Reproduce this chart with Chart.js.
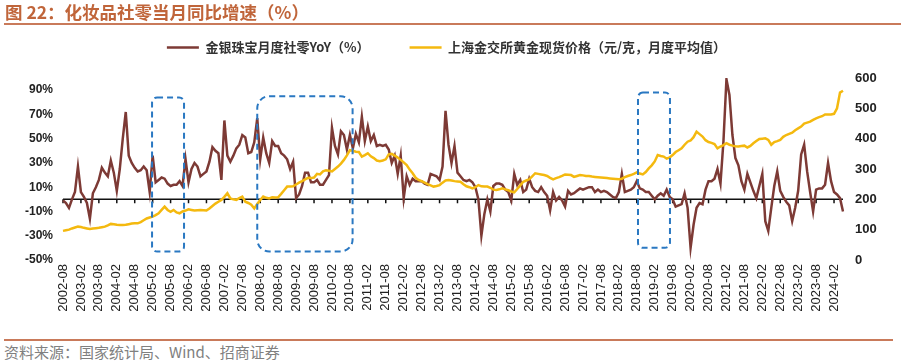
<!DOCTYPE html>
<html>
<head>
<meta charset="utf-8">
<script src="https://cdn.jsdelivr.net/npm/chart.js@4.4.1/dist/chart.umd.min.js"></script>
<style>
  html,body{margin:0;padding:0;background:#fff;}
  body{width:915px;height:361px;position:relative;overflow:hidden;}
  #title{position:absolute;left:5px;top:2px;line-height:20px;font-family:"Noto Sans CJK SC";font-weight:bold;font-size:17.5px;color:#c0653a;white-space:nowrap;}
  .rule{position:absolute;height:2px;background:#c97a5a;}
  #wrap{position:absolute;left:0;top:1px;width:893px;height:333px;}
  #src{position:absolute;left:4px;top:343px;line-height:18px;font-family:"Noto Sans CJK SC";font-size:15px;color:#808080;white-space:nowrap;}
</style>
</head>
<body>
<div id="wrap"><canvas id="c" width="893" height="333"></canvas></div>
<div id="title">图 22：化妆品社零当月同比增速（%）</div>
<div class="rule" style="left:4px;top:23px;width:897px;"></div>
<div class="rule" style="left:4px;top:339px;width:889px;"></div>
<div id="src">资料来源：国家统计局、Wind、招商证券</div>
<script>
// ---- data ----
const startYear = 2002, startMonth = 8, monthCount = 262;
const months = [];
for (let k = 0; k < monthCount; k++) {
  const t = startMonth - 1 + k;
  const y = startYear + Math.floor(t / 12), m = t % 12 + 1;
  months.push(y + '-' + String(m).padStart(2, '0'));
}

const jewelryYoY = [
  -1, -3, -7, 0, 6, 27, 6, 2, -3, -16,
  5, 10, 16, 26, 22, 19, 32, 22, 7, 25,
  50, 72, 36, 30, 26, 23, 24, 27, 24, 6,
  36, 14, 16, 18, 17, 13, 11, 12, 12, 15,
  11, 33, 14, 25, 30, 27, 19, 21, 23, 31,
  43, 40, 38, 16, 65, 36, 31, 36, 42, 45,
  53, 51, 38, 39, 47, 67, 33, 51, 38, 30,
  48, 44, 44, 38, 36, 33, 25, 31, 1, 4,
  11, 22, 22, 14, 14, 16, 12, 12, 16, 20,
  59, 44, 37, 56, 53, 41, 53, 42, 54, 47,
  68, 48, 60, 48, 53, 44, 45, 44, 45, 41,
  30, 36, 21, 36, 1, 19, 12, 17, 15, 15,
  15, 13, 12, 21, 20, 19, 16, 27, 73, 45,
  30, 44, 22, 19, 16, 15, 16, 14, 10, 0,
  -30, -12, 0, -10, 11, 13, 13, 12, 8, 6,
  -1, 21, 12, 16, 6, 8, 17, 10, 7, 6,
  10, 6, 3, -9, 6, -1, 2, -1, -6, 7,
  4, 5, 7, 9, 8, 9, 10, 10, 6, 8,
  6, 7, 6, 4, 2, 1, 6, 21, 6, 7,
  8, 10, 15, 9, 8, 6, 6, 3, 0, 3,
  5, 3, 8, 2, 0, -6, -5, -4, 5, -7,
  -40, -21, -7, -3, -4, 8, 15, 15, 17, 25,
  13, 48, 99, 86, 53, 34, 28, 15, 8, 21,
  14, 7, 1, 11, 21, -18, -26, -7, 11, 23,
  7, 2, -2, -5, -18, -7, 7, 37, 45, 23,
  6, -10, 8, 9, 9, 12, 30, 15, 6, 4, 1, -10
];

const goldPrice = [
  96, 98, 100, 104, 107, 110, 109, 106, 104, 102,
  104, 105, 106, 108, 110, 114, 119, 118, 116, 115,
  115, 116, 118, 120, 121, 121, 125, 131, 137, 140,
  143, 148, 154, 165, 176, 165, 159, 165, 157, 154,
  160, 163, 167, 165, 163, 164, 165, 164, 163, 170,
  178, 186, 192, 198, 208, 220, 203, 200, 198, 204,
  209, 192, 188, 182, 170, 185, 198, 209, 205, 203,
  207, 206, 207, 218, 230, 242, 242, 243, 249, 255,
  260, 266, 271, 270, 272, 284, 282, 292, 296, 294,
  292, 300, 308, 318, 330, 345, 362, 360, 357, 356,
  341, 346, 352, 342, 336, 328, 326, 328, 332, 348,
  350, 344, 338, 330, 322, 313, 298, 286, 271, 264,
  260, 255, 250, 246, 242, 244, 247, 255, 262, 264,
  262, 260, 259, 258, 250, 243, 240, 236, 240, 247,
  243, 242, 242, 238, 232, 231, 233, 236, 233, 230,
  226, 223, 234, 246, 258, 262, 266, 276, 286, 284,
  282, 280, 277, 271, 266, 270, 273, 277, 282, 281,
  280, 274, 277, 280, 279, 277, 277, 275, 274, 273,
  272, 271, 270, 269, 268, 267, 266, 268, 273, 277,
  280, 284, 289, 285, 282, 290, 302, 312, 325, 346,
  343, 341, 334, 338, 346, 356, 362, 368, 380, 390,
  394, 405, 423, 415, 407, 395, 389, 386, 382, 368,
  374, 379, 385, 380, 377, 375, 374, 376, 377, 371,
  376, 385, 392, 399, 400, 401, 396, 380, 389, 392,
  396, 406, 412, 416, 420, 428, 434, 440, 450, 453,
  456, 462, 467, 471, 474, 480, 480, 480, 482, 500, 552, 558
];

const leftTicks = [-50, -30, -10, 10, 30, 50, 70, 90];
const rightTicks = [0, 100, 200, 300, 400, 500, 600];
const labelEvery = 6;

// highlighted periods: [start month index, end month index, top %, bottom %, corner radius]
const boxStart = [29.8, 65.0, 192.4];
const boxEnd = [40.5, 96.9, 203.1];
const boxTop = [84, 85, 88];
const boxBottom = [-43, -43, -40];
const boxRadius = [5, 12, 5];

// ---- plugins ----
const legendSpace = {
  id: 'legendSpace',
  beforeInit(chart) {
    const orig = chart.legend.fit;
    chart.legend.fit = function () { orig.call(this); this.height = 77; };
  }
};

const zeroAxis = {
  id: 'zeroAxis',
  beforeDatasetsDraw(chart) {
    const {ctx, chartArea, scales} = chart;
    const y0 = scales.yL.getPixelForValue(0);
    ctx.save();
    ctx.strokeStyle = '#111';
    ctx.lineWidth = 1.5;
    ctx.beginPath();
    ctx.moveTo(chartArea.left, y0);
    ctx.lineTo(chartArea.right, y0);
    for (let i = 0; i < months.length; i += labelEvery) {
      const x = scales.x.getPixelForValue(i);
      ctx.moveTo(x, y0);
      ctx.lineTo(x, y0 + 4);
    }
    ctx.stroke();
    ctx.restore();
  }
};

const dashedBoxes = {
  id: 'dashedBoxes',
  afterDatasetsDraw(chart) {
    const {ctx, scales} = chart;
    ctx.save();
    ctx.strokeStyle = '#2a78c2';
    ctx.lineWidth = 2;
    ctx.setLineDash([6, 4]);
    for (let b = 0; b < boxStart.length; b++) {
      const x1 = scales.x.getPixelForValue(boxStart[b]);
      const x2 = scales.x.getPixelForValue(boxEnd[b]);
      const y1 = scales.yL.getPixelForValue(boxTop[b]);
      const y2 = scales.yL.getPixelForValue(boxBottom[b]);
      ctx.beginPath();
      ctx.roundRect(x1, y1, x2 - x1, y2 - y1, boxRadius[b]);
      ctx.stroke();
    }
    ctx.restore();
  }
};

new Chart(document.getElementById('c'), {
  type: 'line',
  data: {
    labels: months,
    datasets: [
      {
        label: '金银珠宝月度社零YoY（%）',
        data: jewelryYoY,
        yAxisID: 'yL',
        borderColor: '#7d3a35',
        backgroundColor: '#7d3a35',
        borderWidth: 2.5,
        pointRadius: 0,
        tension: 0,
        order: 1
      },
      {
        label: '上海金交所黄金现货价格（元/克，月度平均值）',
        data: goldPrice,
        yAxisID: 'yR',
        borderColor: '#f4b90f',
        backgroundColor: '#f4b90f',
        borderWidth: 2.5,
        pointRadius: 0,
        tension: 0,
        order: 0
      }
    ]
  },
  options: {
    responsive: false,
    animation: false,
    layout: {padding: 0},
    plugins: {
      tooltip: {enabled: false},
      legend: {
        position: 'top',
        align: 'center',
        labels: {
          usePointStyle: true,
          pointStyle: 'line',
          pointStyleWidth: 32,
          padding: 40,
          color: '#333',
          font: {family: 'Noto Sans CJK SC', size: 13, weight: 'bold'},
          sort: (a, b) => a.datasetIndex - b.datasetIndex
        }
      }
    },
    scales: {
      x: {
        type: 'category',
        offset: false,
        grid: {display: false, drawTicks: false},
        border: {display: false},
        ticks: {
          autoSkip: false,
          maxRotation: 90,
          minRotation: 90,
          padding: 4,
          color: '#222',
          font: {family: 'Liberation Sans', size: 13},
          callback: (v, i) => (i % labelEvery === 0 ? months[i] : '')
        },
        afterFit(s) { s.height = 74; }
      },
      yL: {
        position: 'left',
        min: -50,
        max: 100,
        afterBuildTicks(s) { s.ticks = leftTicks.map(v => ({value: v})); },
        grid: {display: false, drawTicks: false},
        border: {display: false},
        ticks: {
          padding: 10,
          color: '#222',
          font: {family: 'Liberation Sans', size: 12, weight: 'bold'},
          callback: v => v + '%'
        },
        afterFit(s) { s.width = 63; }
      },
      yR: {
        position: 'right',
        min: 0,
        max: 600,
        afterBuildTicks(s) { s.ticks = rightTicks.map(v => ({value: v})); },
        grid: {display: false, drawTicks: false},
        border: {display: false},
        ticks: {
          padding: 12,
          color: '#222',
          font: {family: 'Liberation Sans', size: 13, weight: 'bold'}
        },
        afterFit(s) { s.width = 50; }
      }
    }
  },
  plugins: [legendSpace, zeroAxis, dashedBoxes]
});
</script>
</body>
</html>
